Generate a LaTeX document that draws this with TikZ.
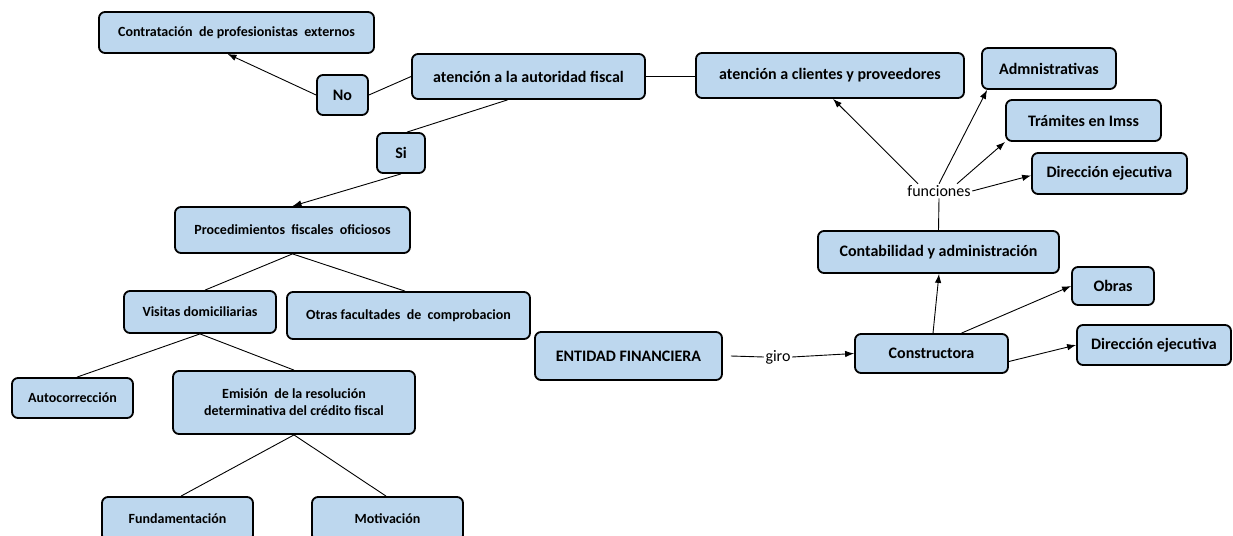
\documentclass[tikz,border=0pt]{standalone}
\usepackage{fontspec}
\setmainfont{Carlito}
\usetikzlibrary{arrows.meta}
\definecolor{boxfill}{RGB}{189,215,238}
\begin{document}
\begin{tikzpicture}[x=1pt,y=-1pt,
  box/.style={draw=black,line width=1.8pt,fill=boxfill,rounded corners=6pt,inner sep=0pt,align=center,font=\bfseries\fontsize{16}{19}\selectfont},
  sbox/.style={box,font=\bfseries\fontsize{14}{17}\selectfont},
  conn/.style={line width=0.9pt},
  arr/.style={conn,-{Latex[length=9pt,width=6.5pt]}},
  lbl/.style={inner sep=1.5pt,font=\fontsize{16}{19}\selectfont}]
\useasboundingbox (0,0) rectangle (1233,535);
% left part
\node[sbox,minimum width=275pt,minimum height=41pt] (contr) at (236.5,32.5) {Contratación\ \ de profesionistas\ \ externos};
\node[box,minimum width=51pt,minimum height=40pt] (no) at (342.5,95) {No};
\node[box,minimum width=233pt,minimum height=45pt] (fisc) at (528.5,76.5) {atención a la autoridad fiscal};
\node[box,minimum width=268pt,minimum height=45pt] (cli) at (830,75.5) {atención a clientes y proveedores};
\node[box,minimum width=48pt,minimum height=40pt] (si) at (401,153) {Si};
\node[sbox,minimum width=235pt,minimum height=46pt] (proc) at (292.5,230) {Procedimientos\ \ fiscales\ \ oficiosos};
\node[sbox,minimum width=152pt,minimum height=42pt] (vis) at (200,312) {Visitas domiciliarias};
\node[sbox,minimum width=243pt,minimum height=47pt] (otras) at (408.5,315.5) {Otras facultades\ \ de\ \ comprobacion};
\node[sbox,minimum width=121pt,minimum height=40pt] (auto) at (72.5,398) {Autocorrección};
\node[sbox,minimum width=242pt,minimum height=63pt] (emis) at (294,402.5) {Emisión\ \ de la resolución\\determinativa del crédito fiscal};
\node[sbox,minimum width=151pt,minimum height=44pt] (fund) at (177.5,519) {Fundamentación};
\node[sbox,minimum width=151pt,minimum height=44pt] (mot) at (387.5,519) {Motivación};
% right part
\node[box,minimum width=134pt,minimum height=41pt] (adm) at (1049,68.5) {Admnistrativas};
\node[box,minimum width=155pt,minimum height=41pt] (tram) at (1083.5,120.5) {Trámites en Imss};
\node[box,minimum width=155pt,minimum height=41pt] (dir1) at (1109.5,173.5) {Dirección ejecutiva};
\node[lbl] (func) at (939,191) {funciones};
\node[box,minimum width=241pt,minimum height=42pt] (cont) at (938.5,252) {Contabilidad y administración};
\node[box,minimum width=82pt,minimum height=38pt] (obras) at (1113,286) {Obras};
\node[box,minimum width=154pt,minimum height=40pt] (dir2) at (1154,345) {Dirección ejecutiva};
\node[box,minimum width=153pt,minimum height=39pt] (cons) at (931.5,353.5) {Constructora};
\node[box,minimum width=187pt,minimum height=48pt] (ent) at (628.5,356) {ENTIDAD FINANCIERA};
\node[lbl] (giro) at (778,357) {giro};
\coordinate (entout) at ([xshift=8pt]ent.east);
% connectors
\draw[arr] (no.west) -- ([xshift=-9pt]contr.south);
\draw[conn] (no.east) -- (fisc.west);
\draw[conn] ([xshift=-21pt]fisc.south) -- ([xshift=6pt]si.north);
\draw[arr] (si.south) -- (proc.north);
\draw[conn] (fisc.east) -- (fisc.east -| cli.west);
\draw[arr] ([xshift=-21pt]func.north) -- ([xshift=3pt]cli.south);
\draw[arr] (func.north) -- ([xshift=6pt]adm.south west);
\draw[arr] ([xshift=18pt]func.north) -- (tram.south west);
\draw[arr] (func.east) -- ([yshift=-2pt]dir1.west);
\draw[conn] (cont.north) -- (func.south);
\draw[arr] ([xshift=1.5pt]cons.north) -- ([xshift=0.5pt]cont.south);
\draw[arr] ([xshift=30pt]cons.north) -- (obras.west);
\draw[arr] ([yshift=-8pt]cons.east) -- (dir2.west);
\draw[conn] (entout) -- (giro.west);
\draw[arr] (giro.east) -- (cons.west);
\draw[conn] (proc.south) -- ([xshift=5pt]vis.north);
\draw[conn] (proc.south) -- ([xshift=-3.5pt]otras.north);
\draw[conn] (vis.south) -- ([xshift=4.5pt]auto.north);
\draw[conn] (vis.south) -- (emis.north);
\draw[conn] (emis.south) -- ([xshift=3.5pt]fund.north);
\draw[conn] (emis.south) -- ([xshift=-1.5pt]mot.north);
\end{tikzpicture}
\end{document}
